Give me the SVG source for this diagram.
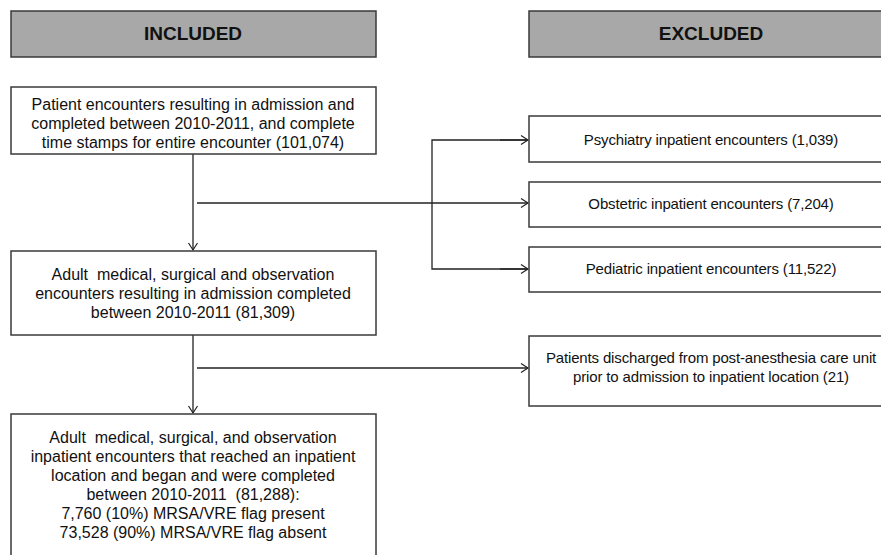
<svg xmlns="http://www.w3.org/2000/svg" width="881" height="555" viewBox="0 0 881 555">
<defs>
<style>
.hdr{fill:#a8a8a8;stroke:#3a3a3a;stroke-width:1.5}
.box{fill:#fff;stroke:#3a3a3a;stroke-width:1.5}
.ht{font-family:"Liberation Sans",Arial,sans-serif;font-weight:bold;font-size:19px;fill:#111;text-anchor:middle}
.t{font-family:"Liberation Sans",Arial,sans-serif;font-size:16px;fill:#111;text-anchor:middle;white-space:pre}
.te{font-family:"Liberation Sans",Arial,sans-serif;font-size:15px;fill:#111;text-anchor:middle;letter-spacing:-0.15px}
.ln{fill:none;stroke:#222;stroke-width:1.3}
</style>
<marker id="arr" markerWidth="12" markerHeight="12" refX="9" refY="5" orient="auto" markerUnits="userSpaceOnUse">
<polyline points="2,0.5 9,5 2,9.5" fill="none" stroke="#222" stroke-width="1.2"/>
</marker>
</defs>
<rect width="881" height="555" fill="#fff"/>
<g id="included-header"><rect class="hdr" x="11" y="11" width="365" height="46"/><text class="ht" x="193" y="40">INCLUDED</text></g>
<g id="excluded-header"><rect class="hdr" x="529" y="11" width="364" height="46"/><text class="ht" x="711" y="40">EXCLUDED</text></g>
<g id="connectors">
<line class="ln" x1="193" y1="154" x2="193" y2="250" marker-end="url(#arr)"/>
<line class="ln" x1="197" y1="203" x2="528" y2="203" marker-end="url(#arr)"/>
<polyline class="ln" points="528,140 432,140 432,269 528,269"/>
<line class="ln" x1="500" y1="140" x2="528" y2="140" marker-end="url(#arr)"/>
<line class="ln" x1="500" y1="269" x2="528" y2="269" marker-end="url(#arr)"/>
<line class="ln" x1="193" y1="335" x2="193" y2="413" marker-end="url(#arr)"/>
<line class="ln" x1="197" y1="368" x2="528" y2="368" marker-end="url(#arr)"/>
</g>
<g id="n1"><rect class="box" x="11" y="87" width="365" height="67"/>
<text class="t" x="193" y="110">Patient encounters resulting in admission and</text>
<text class="t" x="193" y="129">completed between 2010-2011, and complete</text>
<text class="t" x="193" y="148">time stamps for entire encounter (101,074)</text></g>
<g id="n2"><rect class="box" x="11" y="251" width="365" height="84"/>
<text class="t" x="193" y="280">Adult&#160; medical, surgical and observation</text>
<text class="t" x="193" y="299">encounters resulting in admission completed</text>
<text class="t" x="193" y="318">between 2010-2011 (81,309)</text></g>
<g id="n3"><rect class="box" x="11" y="414" width="365" height="150"/>
<text class="t" x="193" y="443">Adult&#160; medical, surgical, and observation</text>
<text class="t" x="193" y="462">inpatient encounters that reached an inpatient</text>
<text class="t" x="193" y="481">location and began and were completed</text>
<text class="t" x="193" y="500">between 2010-2011&#160; (81,288):</text>
<text class="t" x="193" y="519">7,760 (10%) MRSA/VRE flag present</text>
<text class="t" x="193" y="538">73,528 (90%) MRSA/VRE flag absent</text></g>
<g id="e1"><rect class="box" x="529" y="116" width="364" height="46"/>
<text class="te" x="711" y="145">Psychiatry inpatient encounters (1,039)</text></g>
<g id="e2"><rect class="box" x="529" y="182" width="364" height="45"/>
<text class="te" x="711" y="209">Obstetric inpatient encounters (7,204)</text></g>
<g id="e3"><rect class="box" x="529" y="247" width="364" height="45"/>
<text class="te" x="711" y="274">Pediatric inpatient encounters (11,522)</text></g>
<g id="e4"><rect class="box" x="529" y="336" width="364" height="70"/>
<text class="te" x="711" y="363">Patients discharged from post-anesthesia care unit</text>
<text class="te" x="711" y="382">prior to admission to inpatient location (21)</text></g>
</svg>
